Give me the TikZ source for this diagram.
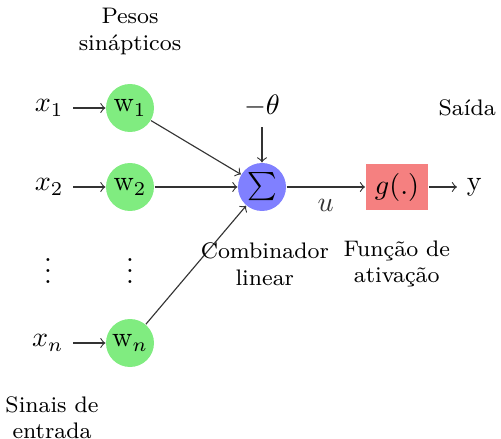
\documentclass[tikz,border=0pt]{standalone}
\usepackage{tikz}
\usetikzlibrary{positioning}
\definecolor{pesogreen}{HTML}{80EC80}
\definecolor{somablue}{HTML}{8080FF}
\definecolor{ativred}{HTML}{F58080}
\tikzset{
  peso/.style={
    circle, fill=pesogreen, minimum size=0.6cm, inner sep=0pt
  },
  soma/.style={
    circle, fill=somablue, minimum size=0.6cm, inner sep=0pt
  },
  ativ/.style={
    rectangle, fill=ativred, minimum width=0.76cm,
    minimum height=0.575cm
  },
  rotulo/.style={
    align=center, font=\footnotesize
  },
  arrow/.style={->, #1},
  arrow/.default=black!80
}

\begin{document}
\begin{tikzpicture}
        \useasboundingbox (0,0) rectangle (6.2625,-5.4875);
        \node[peso] (w1) at (1.625,-1.35) {$\mathrm{w}_1$};
        \node[peso] (w2) at (1.625,-2.3375) {$\mathrm{w}_2$};
        \node[peso] (wn) at (1.625,-4.2875) {$\mathrm{w}_n$};
        \node[left=0.4cm of w1] (x1) {$x_1$};
        \node[left=0.4cm of w2] (x2) {$x_2$};
        \node[left=0.4cm of wn] (xn) {$x_n$};
        \node (dx) at (0.6,-3.28) {$\vdots$};
        \node (dw) at (1.625,-3.28) {$\vdots$};
        \node[soma] (sig) at (3.275,-2.3375) {$\sum$};
        \node (teta) at (3.275,-1.33) {$-\theta$};
        \node[ativ] (g) at (4.9625,-2.3375) {$g(.)$};
        \node[right=0.35cm of g] (y) {y};
        \foreach \a/\b in {x1/w1, x2/w2, xn/wn, w1/sig, w2/sig, wn/sig, teta/sig, g/y}{%
          \draw[arrow] (\a) -- (\b);}
        \draw[arrow] (sig) -- node[below=1pt] {$u$} (g);
        \node[rotulo] (pesos) at (1.625,-0.39) {Pesos\\sinápticos};
        \node[rotulo] (saida) at (5.84,-1.35) {Saída};
        \node[rotulo] (comb) at (3.31,-3.3) {Combinador\\linear};
        \node[rotulo] (func) at (4.96,-3.3) {Função de\\ativação};
        \node[rotulo] (sinais) at (0.65,-5.22) {Sinais de\\entrada};
      \end{tikzpicture}
\end{document}
